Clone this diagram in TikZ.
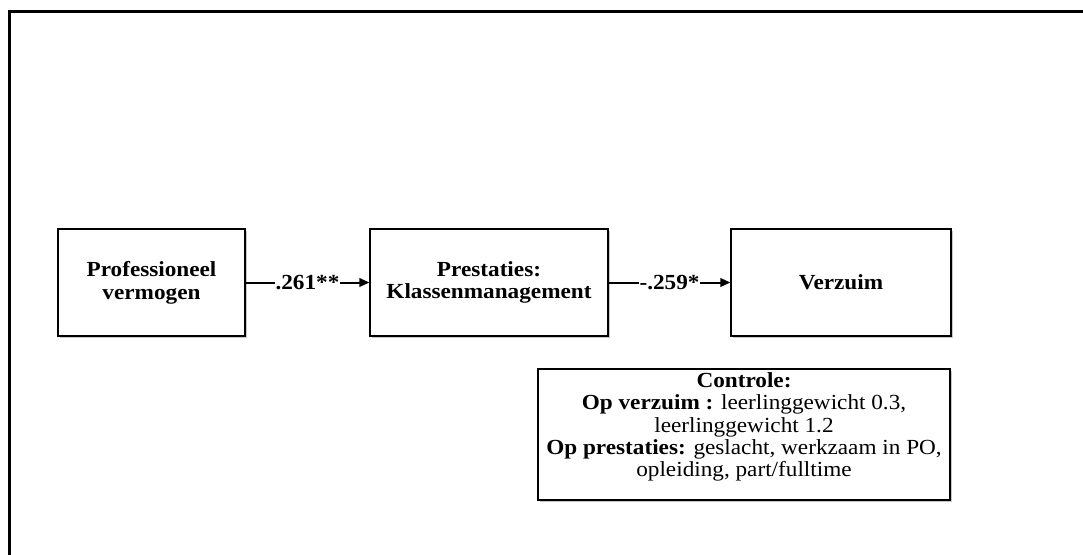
\documentclass[tikz,border=0pt]{standalone}
\usepackage{fontspec}
\setmainfont{Liberation Serif}[FakeStretch=1.08]
\usetikzlibrary{arrows.meta,shadows}

\tikzset{
  box/.style={draw, line width=1.2pt, fill=white,
    drop shadow={shadow xshift=1.8pt, shadow yshift=-1.8pt, fill=black!22, opacity=1},
    minimum height=107pt, align=center,
    font=\fontsize{21.5}{22.6}\selectfont\bfseries},
  coef/.style={fill=white, inner xsep=0.5pt, inner ysep=2pt,
    font=\fontsize{21.5}{22.6}\selectfont\bfseries},
  link/.style={line width=2pt, -{Triangle[length=10pt,width=8.5pt]}},
  ctrlnote/.style={align=center, inner sep=0pt, font=\fontsize{21.5}{22.4}\selectfont}
}

\begin{document}
\begin{tikzpicture}[x=1pt,y=-1pt]
\useasboundingbox (0,0) rectangle (1083,554);
% frame
\draw[line width=3pt] (9,570) -- (9,11) -- (1095,11);

\node[box, minimum width=187pt] (prof) at (151.5,282.5) {Professioneel\\vermogen};
\node[box, minimum width=238pt] (prest) at (489,282.5) {Prestaties:\\Klassenmanagement};
\node[box, minimum width=220pt] (verz) at (841,282.5) {Verzuim};

\draw[link] (prof) -- node[coef] {.261**} (prest);
\draw[link] (prest) -- node[coef] {-.259*} (verz);

% controls
\node[box, minimum width=412pt, minimum height=131pt] (ctrl) at (744,434.5) {};
\node[ctrlnote] (ctrltext) at (744,427) {\textbf{Controle:}\\
  \textbf{Op verzuim :} leerlinggewicht 0.3,\\
  leerlinggewicht 1.2\\
  \textbf{Op prestaties:} geslacht, werkzaam in PO,\\
  opleiding, part/fulltime};
\end{tikzpicture}
\end{document}
